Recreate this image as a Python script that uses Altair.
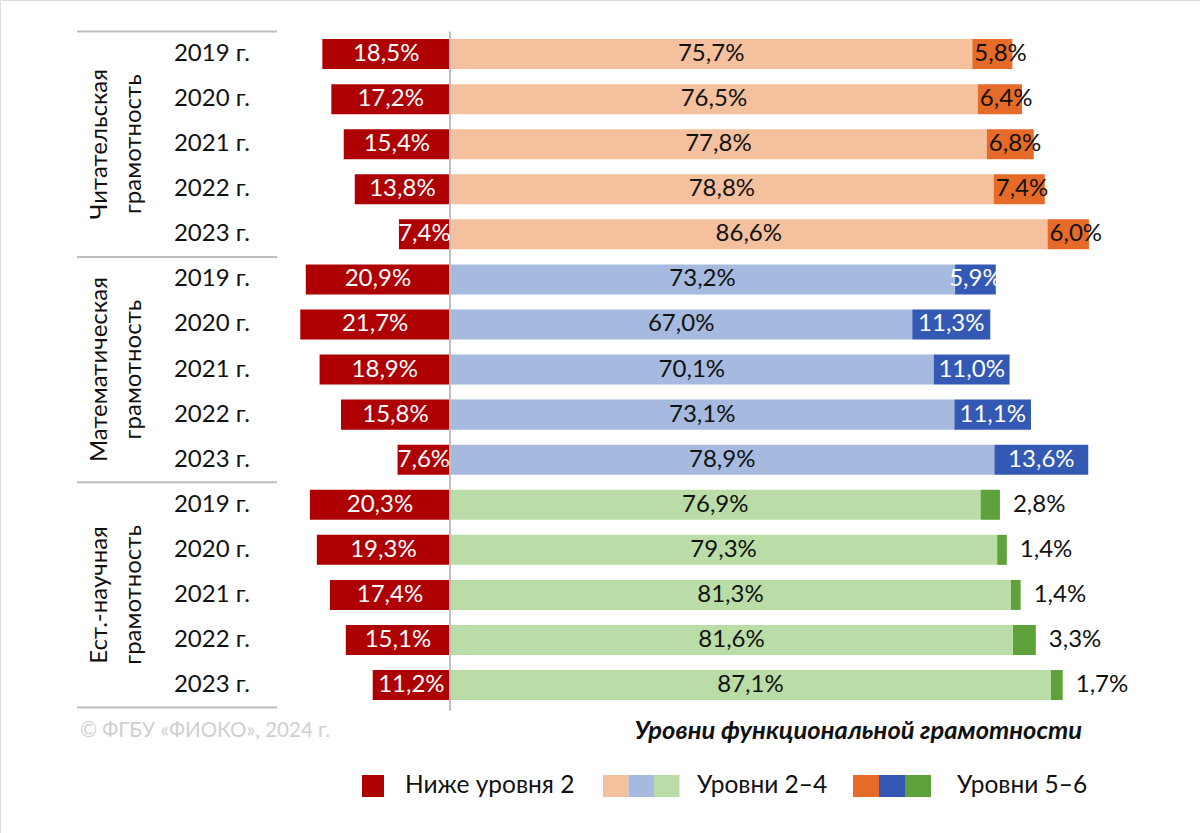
import altair as alt
import pandas as pd

# ---- data ----
subjects = ["Читательская\nграмотность", "Математическая\nграмотность", "Ест.-научная\nграмотность"]
years = ["2019 г.", "2020 г.", "2021 г.", "2022 г.", "2023 г."]

below2_reading = [18.5, 17.2, 15.4, 13.8, 7.4]
mid_reading = [75.7, 76.5, 77.8, 78.8, 86.6]
top_reading = [5.8, 6.4, 6.8, 7.4, 6.0]

below2_math = [20.9, 21.7, 18.9, 15.8, 7.6]
mid_math = [73.2, 67.0, 70.1, 73.1, 78.9]
top_math = [5.9, 11.3, 11.0, 11.1, 13.6]

below2_sci = [20.3, 19.3, 17.4, 15.1, 11.2]
mid_sci = [76.9, 79.3, 81.3, 81.6, 87.1]
top_sci = [2.8, 1.4, 1.4, 3.3, 1.7]

legend_labels = ["Ниже уровня 2", "Уровни 2–4", "Уровни 5–6"]
footer_note = "© ФГБУ «ФИОКО», 2024 г."
axis_title = "Уровни функциональной грамотности"

# ---- styles ----
RED = "#AE0003"
MID_COLORS = ["#F4C09E", "#A6BAE0", "#BADDA7"]
TOP_COLORS = ["#E66A28", "#3359B5", "#5FA13A"]
DARK = "#111111"
FONT = "Lato"
FS = 24

def fmt(v):
    return f"{v:.1f}".replace(".", ",") + "%"

groups = [
    (below2_reading, mid_reading, top_reading),
    (below2_math, mid_math, top_math),
    (below2_sci, mid_sci, top_sci),
]

bars, txt_center, txt_left_near, txt_left_far, year_rows = [], [], [], [], []
for s, (b2, md, tp) in enumerate(groups):
    for j in range(len(years)):
        row = 5 * s + j
        b, m, t = b2[j], md[j], tp[j]
        bars.append(dict(x=-b, x2=0, y=row - 0.333, y2=row + 0.333, c=RED))
        bars.append(dict(x=0, x2=m, y=row - 0.333, y2=row + 0.333, c=MID_COLORS[s]))
        bars.append(dict(x=m, x2=m + t, y=row - 0.333, y2=row + 0.333, c=TOP_COLORS[s]))
        txt_center.append(dict(x=-b / 2, row=row, label=fmt(b), c="white"))
        txt_center.append(dict(x=m / 2, row=row, label=fmt(m), c=DARK))
        if s == 0:
            txt_left_near.append(dict(x=m, row=row, label=fmt(t), c=DARK))
        elif s == 1:
            txt_center.append(dict(x=m + t / 2, row=row, label=fmt(t), c="white"))
        else:
            txt_left_far.append(dict(x=m + t, row=row, label=fmt(t), c=DARK))
        year_rows.append(dict(row=row, label=years[j]))

xs = alt.Scale(domain=[-65.217, 108.696], nice=False, zero=False)
ys = alt.Scale(domain=[-1.2, 17.283], reverse=True, nice=False, zero=False)

bar_layer = alt.Chart(pd.DataFrame(bars)).mark_rect().encode(
    x=alt.X("x:Q", scale=xs, axis=None),
    x2="x2:Q",
    y=alt.Y("y:Q", scale=ys, axis=None),
    y2="y2:Q",
    color=alt.Color("c:N", scale=None),
)

def text_layer(rows, align, dx):
    return alt.Chart(pd.DataFrame(rows)).mark_text(
        align=align, baseline="middle", dx=dx, font=FONT, fontSize=FS
    ).encode(
        x=alt.X("x:Q", scale=xs, axis=None),
        y=alt.Y("row:Q", scale=ys, axis=None),
        text="label:N",
        color=alt.Color("c:N", scale=None),
    )

t1 = text_layer(txt_center, "center", 0)
t2 = text_layer(txt_left_near, "left", 2)
t3 = text_layer(txt_left_far, "left", 13)

year_layer = alt.Chart(pd.DataFrame(year_rows)).mark_text(
    align="center", baseline="middle", font=FONT, fontSize=FS, color=DARK
).encode(
    x=alt.value(212),
    y=alt.Y("row:Q", scale=ys, axis=None),
    text="label:N",
)

grp_df = pd.DataFrame([dict(row=5 * s + 2, label=subjects[s]) for s in range(3)])
group_layer = alt.Chart(grp_df).mark_text(
    align="center", baseline="middle", angle=270, font=FONT, fontSize=FS,
    lineHeight=34, color=DARK, lineBreak="\n"
).encode(
    x=alt.value(100),
    y=alt.Y("row:Q", scale=ys, axis=None),
    text="label:N",
)

sep_df = pd.DataFrame({"y": [-0.5, 4.5, 9.5, 14.5]})
sep_layer = alt.Chart(sep_df).mark_rule(color="#BFBFBF", strokeWidth=2).encode(
    x=alt.value(77), x2=alt.value(277),
    y=alt.Y("y:Q", scale=ys, axis=None),
)

zero_df = pd.DataFrame({"x": [0], "y": [-0.5], "y2": [14.57]})
zero_layer = alt.Chart(zero_df).mark_rule(color="#BFBFBF", strokeWidth=2).encode(
    x=alt.X("x:Q", scale=xs, axis=None),
    y=alt.Y("y:Q", scale=ys, axis=None),
    y2="y2:Q",
)

footer = alt.Chart(pd.DataFrame({"t": [footer_note]})).mark_text(
    align="left", baseline="middle", font=FONT, fontSize=20.5, color="#CFCFCF"
).encode(x=alt.value(80), y=alt.value(731), text="t:N")

title_txt = alt.Chart(pd.DataFrame({"t": [axis_title]})).mark_text(
    align="right", baseline="middle", font=FONT, fontSize=25.5, fontStyle="italic",
    fontWeight="bold", color=DARK
).encode(x=alt.value(1082), y=alt.value(731), text="t:N")

# legend built from the colour lists
LY0, LY1 = 775, 797
leg_rects = [dict(x=362, x2=384, c=RED)]
for k, col in enumerate(MID_COLORS):
    leg_rects.append(dict(x=603 + 25.5 * k, x2=603 + 25.5 * (k + 1), c=col))
for k, col in enumerate(TOP_COLORS):
    leg_rects.append(dict(x=853 + 26 * k, x2=853 + 26 * (k + 1), c=col))
leg_df = pd.DataFrame(leg_rects)
leg_df["y"] = LY0
leg_df["y2"] = LY1
legend_rects = alt.Chart(leg_df).mark_rect().encode(
    x=alt.X("x:Q", scale=None), x2="x2:Q",
    y=alt.Y("y:Q", scale=None), y2="y2:Q",
    color=alt.Color("c:N", scale=None),
)
leg_txt_df = pd.DataFrame({"x": [405, 697, 957], "t": legend_labels})
legend_text = alt.Chart(leg_txt_df).mark_text(
    align="left", baseline="middle", font=FONT, fontSize=24.5, color=DARK
).encode(x=alt.X("x:Q", scale=None), y=alt.value(786), text="t:N")

chart = alt.layer(
    bar_layer, zero_layer, sep_layer, t1, t2, t3, year_layer, group_layer,
    footer, title_txt, legend_rects, legend_text
).properties(
    width=1200, height=833, padding=0, autosize=alt.AutoSizeParams(type="none")
).configure_view(stroke=None).configure(background="white")

chart.save("out.html", embed_options={"renderer": "svg", "actions": False})
